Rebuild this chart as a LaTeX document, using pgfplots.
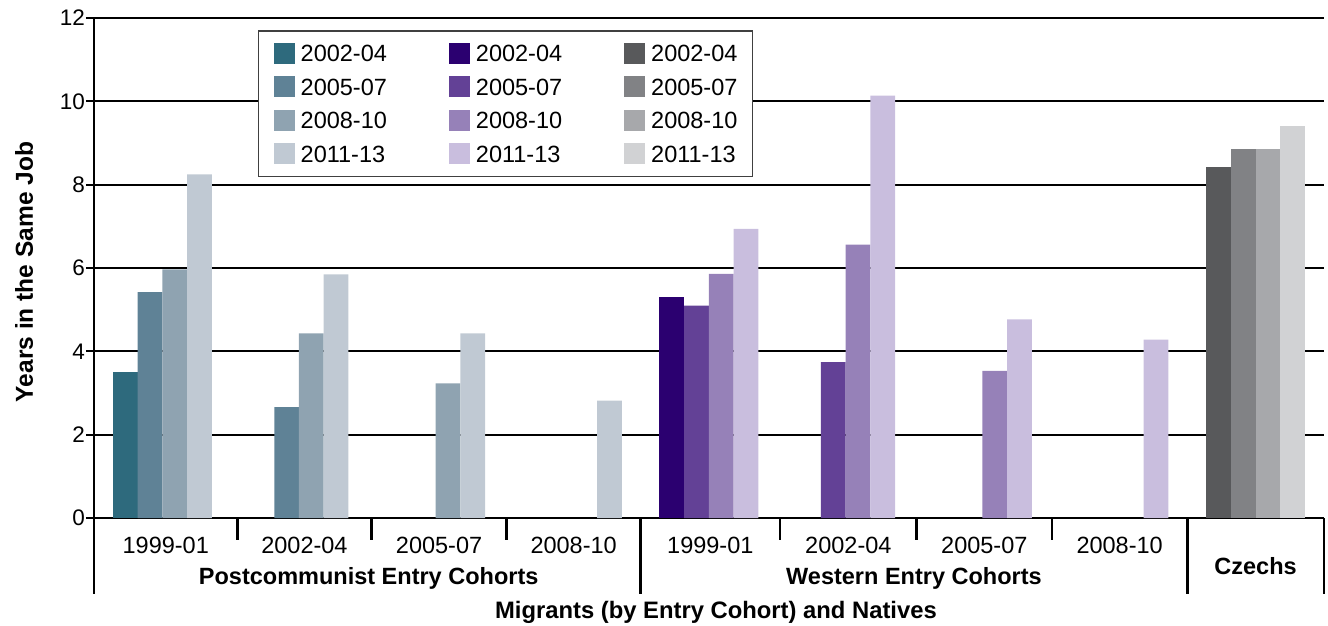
\documentclass[border=0pt]{standalone}
\usepackage{fontspec}
\setmainfont{Liberation Sans}
\usepackage{pgfplots}
\pgfplotsset{compat=1.18}
\definecolor{pca}{HTML}{2E6A7D}
\definecolor{pcb}{HTML}{5F8296}
\definecolor{pcc}{HTML}{8FA3B1}
\definecolor{pcd}{HTML}{C0C9D3}
\definecolor{wa}{HTML}{2B0070}
\definecolor{wb}{HTML}{634196}
\definecolor{wc}{HTML}{9681B8}
\definecolor{wd}{HTML}{C9BEDE}
\definecolor{ga}{HTML}{58595B}
\definecolor{gb}{HTML}{818285}
\definecolor{gc}{HTML}{A7A8AB}
\definecolor{gd}{HTML}{D1D2D4}
\pgfplotsset{
  sqlegend/.style={legend image code/.code={\fill[##1,draw=none] (0pt,-9.4pt) rectangle (21pt,11.6pt);}},
  mybar/.style 2 args={ybar, bar width=0.181, bar shift=#1, fill=#2, draw=none, sqlegend},
}
\begin{document}
\begin{tikzpicture}
\useasboundingbox (-94pt,-107pt) rectangle (1234pt,518pt);
\begin{axis}[
  at={(0pt,0pt)}, anchor=south west,
  scale only axis, width=1230pt, height=500pt,
  xmin=-0.5, xmax=8.5, ymin=0, ymax=12,
  clip=false,
  axis lines*=left,
  axis line style={line width=2.6pt, black},
  ytick={0,2,...,12},
  ymajorgrids, grid style={line width=2.2pt, black},
  tick align=outside, major tick length=8pt,
  ytick style={line width=2.2pt, black},
  xtick style={draw=none},
  /pgf/number format/assume math mode=true,
  yticklabel style={font=\fontsize{22.5}{26}\selectfont, inner sep=0pt, xshift=-1pt},
  xtick={0.025,1.04,2.025,3.01,4.01,5.02,6.015,7.005},
  xticklabels={1999-01,2002-04,2005-07,2008-10,1999-01,2002-04,2005-07,2008-10},
  xticklabel style={font=\fontsize{23.5}{27}\selectfont, anchor=center, inner sep=0pt, yshift=-19pt},
  legend columns=4, transpose legend,
  legend style={at={(rel axis cs:0.1333,0.976)}, anchor=north west,
    draw={rgb,255:red,64;green,64;blue,64}, line width=1.5pt,
    font=\fontsize{23.5}{28}\selectfont,
    inner xsep=15pt, inner ysep=12pt,
    nodes={inner sep=0pt},
    cells={anchor=west},
    row sep=12.5pt,
    /tikz/every odd column/.append style={column sep=6pt},
    /tikz/every even column/.append style={column sep=62pt},
  },
]
% Postcommunist
\addplot[mybar={-0.2715}{pca}] coordinates {(0,3.50)};
\addplot[mybar={-0.0905}{pcb}] coordinates {(0,5.42) (1,2.66)};
\addplot[mybar={0.0905}{pcc}] coordinates {(0,5.97) (1,4.43) (2,3.23)};
\addplot[mybar={0.2715}{pcd}] coordinates {(0,8.25) (1,5.85) (2,4.43) (3,2.82)};
% Western
\addplot[mybar={-0.2715}{wa}] coordinates {(4,5.31)};
\addplot[mybar={-0.0905}{wb}] coordinates {(4,5.10) (5,3.74)};
\addplot[mybar={0.0905}{wc}] coordinates {(4,5.86) (5,6.56) (6,3.53)};
\addplot[mybar={0.2715}{wd}] coordinates {(4,6.94) (5,10.14) (6,4.77) (7,4.28)};
% Czechs
\addplot[mybar={-0.2715}{ga}] coordinates {(8,8.42)};
\addplot[mybar={-0.0905}{gb}] coordinates {(8,8.85)};
\addplot[mybar={0.0905}{gc}] coordinates {(8,8.85)};
\addplot[mybar={0.2715}{gd}] coordinates {(8,9.40)};
\legend{2002-04,2005-07,2008-10,2011-13,2002-04,2005-07,2008-10,2011-13,2002-04,2005-07,2008-10,2011-13}
% separators
\draw[line width=2.6pt, black] (axis cs:0.55,0) -- ++(0pt,-22pt);
\draw[line width=2.6pt, black] (axis cs:1.53,0) -- ++(0pt,-22pt);
\draw[line width=2.6pt, black] (axis cs:2.52,0) -- ++(0pt,-22pt);
\draw[line width=2.6pt, black] (axis cs:4.52,0) -- ++(0pt,-22pt);
\draw[line width=2.6pt, black] (axis cs:5.52,0) -- ++(0pt,-22pt);
\draw[line width=2.6pt, black] (axis cs:6.51,0) -- ++(0pt,-22pt);
\draw[line width=2.6pt, black] (axis cs:-0.5,0) -- ++(0pt,-76pt);
\draw[line width=2.6pt, black] (axis cs:3.5,0) -- ++(0pt,-76pt);
\draw[line width=2.6pt, black] (axis cs:7.5,0) -- ++(0pt,-76pt);
\draw[line width=2.6pt, black] (axis cs:8.5,0) -- ++(0pt,-76pt);
\node[font=\bfseries\fontsize{23.5}{27}\selectfont, inner sep=0pt] at ([yshift=-60pt]axis cs:1.51,0) {Postcommunist Entry Cohorts};
\node[font=\bfseries\fontsize{23.5}{27}\selectfont, inner sep=0pt] at ([yshift=-60pt]axis cs:5.5,0) {Western Entry Cohorts};
\node[font=\bfseries\fontsize{23.5}{27}\selectfont, inner sep=0pt] at ([yshift=-48pt]axis cs:8,0) {Czechs};
\node[font=\bfseries\fontsize{23.8}{27}\selectfont, inner sep=0pt] at ([yshift=-94pt,xshift=7pt]rel axis cs:0.5,0) {Migrants (by Entry Cohort) and Natives};
\node[font=\bfseries\fontsize{24.5}{28}\selectfont, inner sep=0pt, rotate=90] at ([xshift=-70pt,yshift=-4pt]rel axis cs:0,0.5) {Years in the Same Job};
\end{axis}
\end{tikzpicture}
\end{document}
